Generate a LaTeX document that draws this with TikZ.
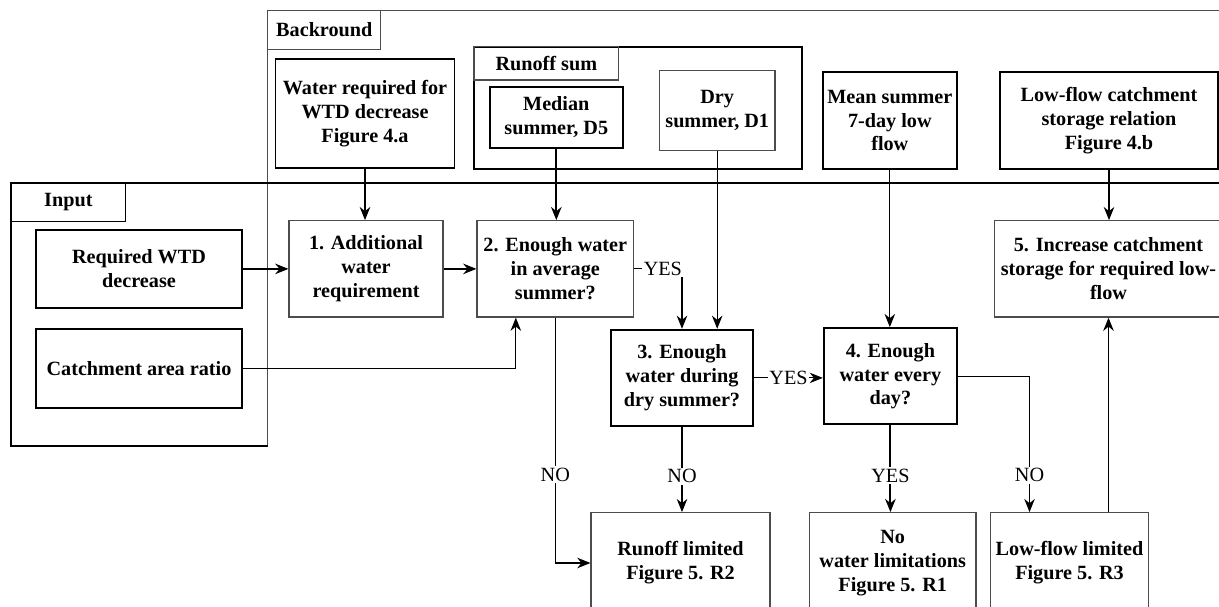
\documentclass[tikz,border=0pt]{standalone}
\usepackage{fontspec}
\setmainfont{Liberation Serif}
\usetikzlibrary{arrows.meta}

\begin{document}
\begin{tikzpicture}[x=0.02cm, y=-0.02cm,
    font=\fontsize{11.5}{13.6}\selectfont\bfseries,
    wh/.style 2 args={minimum width=#1*0.02cm, minimum height=#2*0.02cm},
    darkbox/.style={draw=black, line width=1.1pt, align=center, inner sep=0pt},
    lightbox/.style={draw=black!70, line width=0.7pt, align=center, inner sep=0pt},
    flow/.style={-{Stealth[length=7.5pt,width=6pt]}, line width=0.6pt},
    mainflow/.style={flow, line width=1.1pt},
    answer/.style={font=\fontsize{11.5}{13}\selectfont, fill=white, inner sep=1pt}]
    \useasboundingbox (0,0) rectangle (1219,607);
    \clip (0,0) rectangle (1219,607);
    % frames
    \draw[draw=black!70, line width=0.7pt] (1240,10.7) -- (267.6,10.7) -- (267.6,446);
    \draw[line width=1.1pt] (1240,182.7) -- (11,182.7) -- (11,446) -- (267.6,446);
    \node[lightbox, wh={113}{38.6}] (bgtab) at (324.3,30) {Backround};
    \node[darkbox, line width=0.8pt, wh={114.7}{39}] (intab) at (68.4,202.2) {Input};
    \node[darkbox, wh={328.4}{122}] (runframe) at (638.2,107.7) {};
    \node[lightbox, wh={144.6}{33.3}] (runtab) at (546.3,63.3) {Runoff sum};
    % background boxes
    \node[darkbox, wh={179}{109}] (water) at (365,113.5) {Water required for\\WTD decrease\\Figure 4.a};
    \node[darkbox, wh={132.5}{60.4}] (median) at (556.3,117.5) {Median\\summer, D5};
    \node[lightbox, wh={115.7}{79.6}] (dry) at (717.2,110.5) {Dry\\summer, D1};
    \node[darkbox, wh={134.5}{96.4}] (mean) at (889.8,120.5) {Mean summer\\7-day low\\flow};
    \node[darkbox, wh={217.3}{96.4}] (lowcat) at (1109,120.5) {Low-flow catchment\\storage relation\\Figure 4.b};
    % input boxes
    \node[darkbox, wh={206}{77.7}] (req) at (139,268.9) {Required WTD\\decrease};
    \node[darkbox, wh={206}{78.7}] (catch) at (139,368.4) {Catchment area ratio};
    % steps
    \node[lightbox, wh={154}{96.3}] (b1) at (366,268.9) {1. Additional\\water\\requirement};
    \node[lightbox, wh={156.6}{96.3}] (b2) at (555.3,268.9) {2. Enough water\\in average\\summer?};
    \node[darkbox, wh={142.7}{96.3}] (b3) at (682,377.9) {3. Enough\\water during\\dry summer?};
    \node[darkbox, wh={133.3}{96.3}] (b4) at (890.4,376.2) {4. Enough\\water every\\day?};
    \node[lightbox, wh={228}{96.3}] (b5) at (1108.5,268.9) {5. Increase catchment\\storage for required low-\\flow};
    % results
    \node[lightbox, wh={179}{100.6}] (r2) at (680.5,563) {Runoff limited\\Figure 5. R2};
    \node[lightbox, wh={166.4}{100.6}] (r1) at (892.7,563) {No\\water limitations\\Figure 5. R1};
    \node[lightbox, wh={158}{100.6}] (r3) at (1069.5,563) {Low-flow limited\\Figure 5. R3};
    % connectors
    \draw[mainflow] (water.south) -- (water.south |- b1.north);
    \draw[mainflow] (median.south) -- (median.south |- b2.north);
    \draw[flow] (dry.south) -- (dry.south |- b3.north);
    \draw[flow] (mean.south) -- (mean.south |- b4.north);
    \draw[flow] (lowcat.south) -- (lowcat.south |- b5.north);
    \draw[mainflow] (req.east) -- (b1.west);
    \draw[mainflow] (b1.east) -- (b2.west);
    \draw[flow] (catch.east) -| ([xshift=-0.79cm]b2.south);
    \draw[flow] (b2.east) -| node[answer, pos=0.3] {YES} (b3.north);
    \draw[flow] (b3.east) -- node[answer] {YES} (b3.east -| b4.west);
    \draw[flow] (b2.south) |- node[answer, pos=0.32] {NO} (r2.west);
    \draw[flow] (b3.south) -- node[answer, pos=0.58] {NO} (b3.south |- r2.north);
    \draw[mainflow] (b4.south) -- node[answer, pos=0.58] {YES} (b4.south |- r1.north);
    \draw[flow] (b4.east) -| node[answer, pos=0.865] {NO} ([xshift=-0.8cm]r3.north);
    \draw[mainflow] ([xshift=0.78cm]r3.north) -- ([xshift=0.78cm]r3.north |- b5.south);
\end{tikzpicture}
\end{document}
